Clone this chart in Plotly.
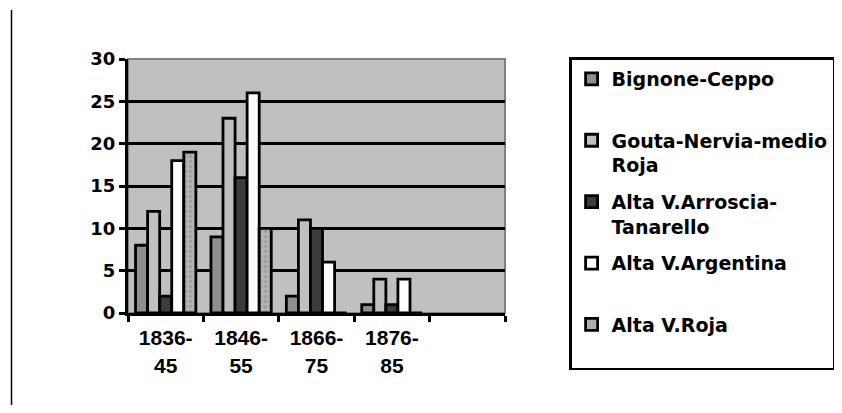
import plotly.graph_objects as go

categories = ["1836-<br>45", "1846-<br>55", "1866-<br>75", "1876-<br>85", " "]
series_names = ["Bignone-Ceppo", "Gouta-Nervia-medio<br>Roja", "Alta V.Arroscia-<br>Tanarello",
                "Alta V.Argentina", "Alta V.Roja"]
bignone = [8, 9, 2, 1, None]
gouta = [12, 23, 11, 4, None]
arroscia = [2, 16, 10, 1, None]
argentina = [18, 26, 6, 4, None]
roja = [19, 10, 0, 0, None]
y_ticks = [0, 5, 10, 15, 20, 25, 30]

values = [bignone, gouta, arroscia, argentina, roja]
fills = ["#8f8f8f", "#c0c0c0", "#3c3c3c", "#ffffff", "#b4b4b4"]
patterns = [dict(shape=""), dict(shape=""), dict(shape=""), dict(shape=""),
            dict(shape=".", fgcolor="#8a8a8a", size=5, solidity=0.35)]

fig = go.Figure()
for i, (name, vals) in enumerate(zip(series_names, values)):
    label = name if "<br>" in name else name + "<br> "
    fig.add_trace(go.Bar(
        x=categories, y=vals, name=label, legendgroup=f"g{i}",
        marker=dict(color=fills[i], line=dict(color="#000000", width=2.8), pattern=patterns[i]),
    ))

font_main = "DejaVu Sans, Arial, sans-serif"
fig.update_layout(
    width=842, height=413,
    margin=dict(l=120, r=345, t=51, b=108, autoexpand=False),
    paper_bgcolor="#ffffff", plot_bgcolor="#c0c0c0",
    barmode="group", bargap=0.2, bargroupgap=0.0,
    showlegend=True,
    legend=dict(
        x=1.17, y=1.006, xanchor="left", yanchor="top",
        bordercolor="#000000", borderwidth=2.5, bgcolor="#ffffff",
        font=dict(family=font_main, size=19, color="#000000", weight="bold"),
        valign="top", tracegroupgap=9, traceorder="grouped",
        itemwidth=30, maxheight=340,
    ),
    xaxis=dict(
        type="category", showline=True, linecolor="#000000", linewidth=3,
        ticks="outside", tickson="boundaries", ticklen=6, tickwidth=3, tickcolor="#000000",
        showgrid=False, ticklabelstandoff=4,
        tickfont=dict(family="Liberation Sans, Arial, sans-serif", size=21, color="#000000", weight="bold"),
    ),
    yaxis=dict(
        range=[0, 30], tickvals=y_ticks, showline=True, linecolor="#000000", linewidth=3,
        ticks="outside", ticklen=6, tickwidth=3, tickcolor="#000000",
        showgrid=True, gridcolor="#000000", gridwidth=3, zeroline=False,
        tickfont=dict(family=font_main, size=18, color="#000000", weight="bold"),
    ),
    shapes=[
        dict(type="rect", xref="paper", yref="paper", x0=0, x1=1, y0=0, y1=1,
             line=dict(color="#808080", width=2), layer="below"),
        dict(type="line", xref="paper", yref="paper", x0=-0.309, x1=-0.309, y0=-0.362, y1=1.193,
             line=dict(color="#000000", width=1.5)),
    ],
)

fig.write_html("out.html")
